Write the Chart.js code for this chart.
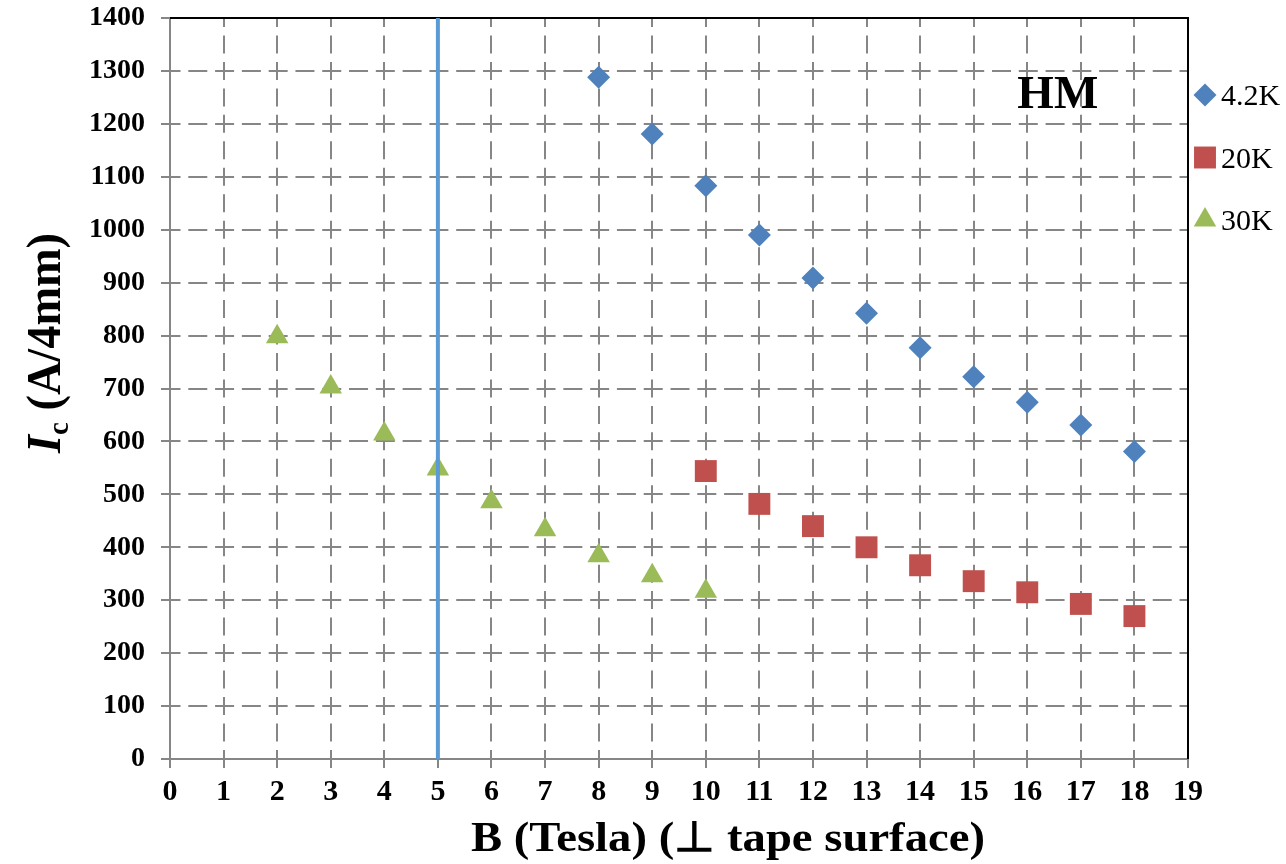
<!DOCTYPE html>
<html>
<head>
<meta charset="utf-8">
<title>Ic vs B - HM</title>
<script src="https://cdn.jsdelivr.net/npm/chart.js@4.4.0/dist/chart.umd.min.js"></script>
<style>
  html, body { margin: 0; padding: 0; background: #fff; }
</style>
</head>
<body>
<canvas id="icChart" width="1286" height="864"></canvas>
<script>
// field values (Tesla) and critical currents (A/4mm)
const field42K = [8, 9, 10, 11, 12, 13, 14, 15, 16, 17, 18]
const ic42K = [1288, 1181, 1083, 990, 909, 842, 777, 722, 674, 631, 581]

const field20K = [10, 11, 12, 13, 14, 15, 16, 17, 18]
const ic20K = [544, 482, 440, 400, 366, 336, 315, 293, 270]

const field30K = [2, 3, 4, 5, 6, 7, 8, 9, 10]
const ic30K = [798, 703, 614, 548, 486, 433, 384, 346, 317]

const seriesLabels = ['4.2K', '20K', '30K']

// the vertical marker at 5 T
const markerField = [5, 5]
const markerIc = [0, 1400]

const xRange = [0, 19]
const yRange = [0, 1400]

const serif = '"Liberation Serif", "Times New Roman", serif'

function toPoints(xs, ys) {
    var pts = []
    for (var i = 0; i < xs.length; i++) {
        pts.push({ x: xs[i], y: ys[i] })
    }
    return pts
}

const frameAndText = {
    id: 'frameAndText',
    beforeDatasetsDraw(chart) {
        const ctx = chart.ctx
        const a = chart.chartArea
        ctx.save()
        ctx.strokeStyle = '#000'
        ctx.lineWidth = 2
        ctx.beginPath()
        ctx.moveTo(a.left, a.top)
        ctx.lineTo(a.right, a.top)
        ctx.lineTo(a.right, a.bottom)
        ctx.stroke()
        ctx.restore()
    },
    afterDraw(chart) {
        const ctx = chart.ctx
        const x = chart.scales.x
        const y = chart.scales.y
        ctx.save()
        ctx.fillStyle = '#000'

        // HM label
        ctx.font = 'bold 47px ' + serif
        ctx.textAlign = 'center'
        ctx.textBaseline = 'alphabetic'
        ctx.fillText('HM', x.getPixelForValue(16.57), y.getPixelForValue(1230))

        // x axis title
        ctx.font = 'bold 42px ' + serif
        var xt = 'B (Tesla) (\u22A5 tape surface)'
        var w = ctx.measureText(xt).width
        ctx.save()
        ctx.translate(728, 851)
        ctx.scale(514 / w, 1)
        ctx.textAlign = 'center'
        ctx.fillText(xt, 0, 0)
        ctx.restore()

        // y axis title: I (italic) + subscript c + (A/4mm)
        ctx.save()
        ctx.translate(60, 343)
        ctx.rotate(-Math.PI / 2)
        ctx.textAlign = 'left'
        var f1 = 'italic bold 48px ' + serif
        var f2 = 'bold 30px ' + serif
        var f3 = 'bold 48px ' + serif
        ctx.font = f1
        var w1 = ctx.measureText('I').width
        ctx.font = f2
        var w2 = ctx.measureText('c').width
        ctx.font = f3
        var w3 = ctx.measureText(' (A/4mm)').width
        var total = w1 + w2 + w3
        ctx.scale(220 / total, 1)
        var px = -total / 2
        ctx.font = f1
        ctx.fillText('I', px, 0)
        px += w1
        ctx.font = f2
        ctx.fillText('c', px, 8)
        px += w2
        ctx.font = f3
        ctx.fillText(' (A/4mm)', px, 0)
        ctx.restore()

        // legend on the right
        var legendY = 95
        ctx.font = '30px ' + serif
        ctx.textAlign = 'left'
        chart.data.datasets.forEach(function (ds) {
            if (!ds.inLegend) return
            ctx.fillStyle = ds.backgroundColor
            Chart.helpers.drawPoint(ctx, {
                pointStyle: ds.pointStyle,
                rotation: 0,
                radius: ds.pointRadius,
                borderWidth: 0
            }, 1205, legendY)
            ctx.fillStyle = '#000'
            ctx.fillText(ds.label, 1221, legendY + 10)
            legendY += 62.5
        })
        ctx.restore()
    }
}

var canvas = document.getElementById('icChart')
var myChart = new Chart(canvas, {
    type: 'scatter',
    data: {
        datasets: [
            {
                label: 'B = 5 T',
                data: toPoints(markerField, markerIc),
                showLine: true,
                borderColor: '#5b9bd5',
                borderWidth: 4,
                pointRadius: 0,
                order: 0
            },
            {
                label: seriesLabels[0],
                data: toPoints(field42K, ic42K),
                pointStyle: 'rectRot',
                pointRadius: 11.5,
                backgroundColor: '#4f81bd',
                borderColor: '#4f81bd',
                pointBorderWidth: 0,
                inLegend: true,
                order: 1
            },
            {
                label: seriesLabels[1],
                data: toPoints(field20K, ic20K),
                pointStyle: 'rect',
                pointRadius: 15.5,
                backgroundColor: '#c0504d',
                borderColor: '#c0504d',
                pointBorderWidth: 0,
                inLegend: true,
                order: 1
            },
            {
                label: seriesLabels[2],
                data: toPoints(field30K, ic30K),
                pointStyle: 'triangle',
                pointRadius: 13,
                backgroundColor: '#9bbb59',
                borderColor: '#9bbb59',
                pointBorderWidth: 0,
                inLegend: true,
                order: 1
            }
        ]
    },
    options: {
        responsive: false,
        animation: false,
        devicePixelRatio: 1,
        layout: { padding: { top: 18, right: 98, left: 0, bottom: 0 } },
        plugins: {
            legend: { display: false },
            tooltip: { enabled: false }
        },
        scales: {
            x: {
                type: 'linear',
                min: xRange[0],
                max: xRange[1],
                afterFit: function (scale) {
                    scale.height = 105
                    scale.paddingLeft = 0
                    scale.paddingRight = 0
                },
                ticks: {
                    stepSize: 1,
                    color: '#000',
                    padding: 6,
                    font: { family: serif, size: 30, weight: 'bold' }
                },
                grid: {
                    color: '#868686',
                    lineWidth: 2,
                    tickLength: 9,
                    tickBorderDash: []
                },
                border: {
                    color: '#868686',
                    width: 2,
                    dash: [18, 8.46],
                    dashOffset: 9
                }
            },
            y: {
                min: yRange[0],
                max: yRange[1],
                afterFit: function (scale) {
                    scale.width = 170
                    scale.paddingTop = 0
                    scale.paddingBottom = 0
                },
                ticks: {
                    stepSize: 100,
                    color: '#000',
                    padding: 16,
                    font: { family: serif, size: 28, weight: 'bold' },
                    callback: function (v) { return String(v) }
                },
                grid: {
                    color: '#868686',
                    lineWidth: 2,
                    tickLength: 9,
                    tickBorderDash: []
                },
                border: {
                    color: '#868686',
                    width: 2,
                    dash: [19, 7.79],
                    dashOffset: 9.5
                }
            }
        }
    },
    plugins: [frameAndText]
})
</script>
</body>
</html>
